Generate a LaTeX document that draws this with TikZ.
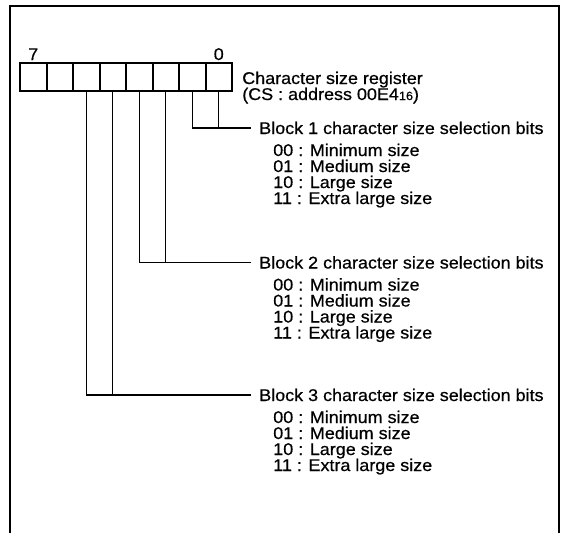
\documentclass[tikz,border=0pt]{standalone}
\usepackage{fontspec}
\setmainfont{Liberation Sans}[FakeStretch=1.06, FakeBold=0.6]
\begin{document}
\begin{tikzpicture}[x=0.75pt,y=0.75pt,yscale=-1,xscale=1,
  cell/.style={draw, line width=1.5pt, inner sep=0pt, outer sep=0pt, minimum width=19.875pt, minimum height=21pt},
  txt/.style={inner sep=0pt, font=\fontsize{12.7}{13}\selectfont},
  hdr/.style={txt, inner xsep=6pt},
  wire/.style={line width=0.9pt}]
\useasboundingbox (0,0) rectangle (564,533);

%Straight Lines (frame, open at the bottom)
\draw [line width=2.2pt]   (10,533) -- (10,6) -- (559,6) -- (559,533) ;

%Shape: Register cells
\draw (33.25,77) node (b7) [cell] {};
\draw (59.75,77) node (b6) [cell] {};
\draw (86.25,77) node (b5) [cell] {};
\draw (112.75,77) node (b4) [cell] {};
\draw (139.25,77) node (b3) [cell] {};
\draw (165.75,77) node (b2) [cell] {};
\draw (192.25,77) node (b1) [cell] {};
\draw (218.75,77) node (b0) [cell] {};
\draw [line width=2pt]   (b7.north west) rectangle (b0.south east) ;

% Text Node
\draw (33.25,60) node (msb) [txt, anchor=base] {7};
% Text Node
\draw (218.75,60) node (lsb) [txt, anchor=base] {0};
% Text Node
\draw (242,84) node (reg) [txt, anchor=base west] {Character size register};
% Text Node
\draw (242,100) node (regadr) [txt, anchor=base west] {(CS : address 00E4{\fontsize{9}{9}\selectfont 16})};

% Text Node
\draw (251,134) node (blk1) [hdr, anchor=base west] {Block 1 character size selection bits};
\draw (273,156) node (blk1a) [txt, anchor=base west] {00 : Minimum size};
\draw (273,172) node (blk1b) [txt, anchor=base west] {01 : Medium size};
\draw (273,188) node (blk1c) [txt, anchor=base west] {10 : Large size};
\draw (273,204) node (blk1d) [txt, anchor=base west] {11 : Extra large size};

% Text Node
\draw (251,268.5) node (blk2) [hdr, anchor=base west] {Block 2 character size selection bits};
\draw (273,290.5) node (blk2a) [txt, anchor=base west] {00 : Minimum size};
\draw (273,306.5) node (blk2b) [txt, anchor=base west] {01 : Medium size};
\draw (273,322.5) node (blk2c) [txt, anchor=base west] {10 : Large size};
\draw (273,338.5) node (blk2d) [txt, anchor=base west] {11 : Extra large size};

% Text Node
\draw (251,401) node (blk3) [hdr, anchor=base west] {Block 3 character size selection bits};
\draw (273,423) node (blk3a) [txt, anchor=base west] {00 : Minimum size};
\draw (273,439) node (blk3b) [txt, anchor=base west] {01 : Medium size};
\draw (273,455) node (blk3c) [txt, anchor=base west] {10 : Large size};
\draw (273,471) node (blk3d) [txt, anchor=base west] {11 : Extra large size};

%Straight Lines (bits 1-0)
\draw [wire]   (b1.south) |- (blk1.west) ;
\draw [wire]   (b0.south) -- (b0.south |- blk1.west) ;
%Straight Lines (bits 3-2)
\draw [wire]   (b3.south) |- (blk2.west) ;
\draw [wire]   (b2.south) -- (b2.south |- blk2.west) ;
%Straight Lines (bits 5-4)
\draw [wire]   (b5.south) |- (blk3.west) ;
\draw [wire]   (b4.south) -- (b4.south |- blk3.west) ;

\end{tikzpicture}
\end{document}
